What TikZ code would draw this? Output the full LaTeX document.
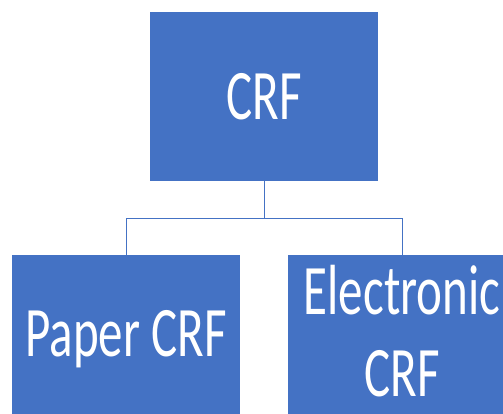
\documentclass[tikz,border=0pt]{standalone}
\usepackage{graphicx}
\usepackage{fontspec}
\setmainfont{Carlito}
\usepackage{tikz}

\definecolor{crfblue}{HTML}{4472C4}
\newcommand{\squeeze}[1]{\scalebox{0.69}[1]{#1}}

\begin{document}
\begin{tikzpicture}[x=1pt,y=-1pt,
    crfbox/.style={fill=crfblue, text=white, minimum width=228pt, minimum height=169pt,
                   inner sep=0pt, font=\fontsize{71}{82}\selectfont},
    link/.style={draw=crfblue, line width=1pt}]
\useasboundingbox (0,0) rectangle (503,414);
\clip (0,0) rectangle (503,414);
\node [crfbox] (crf)   at (264,96.5)  {\squeeze{CRF}};
\node [crfbox] (paper) at (126,339.5) {\squeeze{Paper CRF}};
\node [crfbox] (elec)  at (402,339.5) {\squeeze{\begin{tabular}{@{}c@{}}Electronic\\CRF\end{tabular}}};
\coordinate (split) at (264,218);
\draw [link] (crf.south) -- (split) -| (paper.north);
\draw [link] (split) -| (elec.north);
\end{tikzpicture}
\end{document}
